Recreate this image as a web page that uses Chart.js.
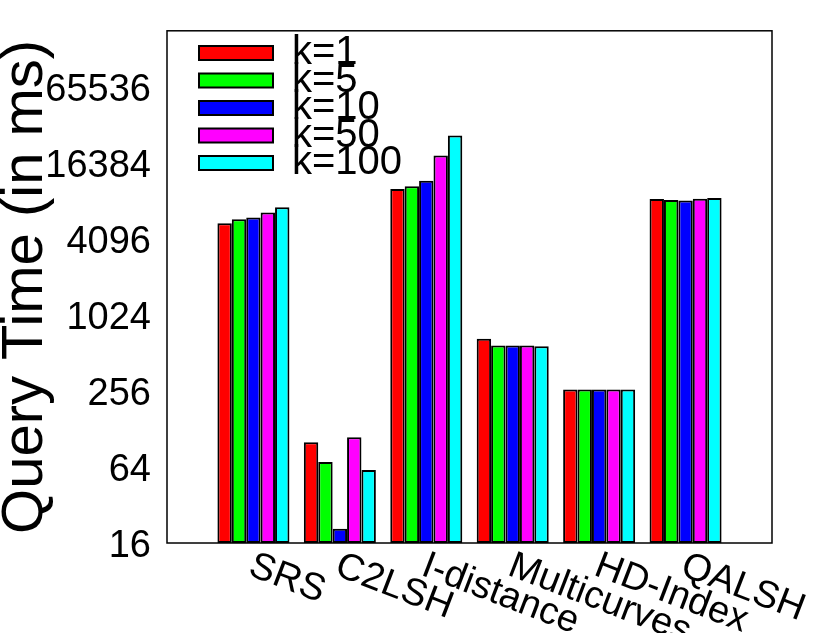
<!DOCTYPE html>
<html>
<head>
<meta charset="utf-8">
<script src="https://cdn.jsdelivr.net/npm/chart.js@4.4.1/dist/chart.umd.min.js"></script>
<style>
  body { margin: 0; background: #fff; }
  #wrap { width: 822px; height: 633px; }
</style>
</head>
<body>
<div id="wrap"><canvas id="chart" width="822" height="633"></canvas></div>
<script>
// data (query time in ms, log2 axis)
const categories = ['SRS', 'C2LSH', 'I-distance', 'Multicurves', 'HD-Index', 'QALSH'];
const seriesNames = ['k=1', 'k=5', 'k=10', 'k=50', 'k=100'];
const seriesColors = ['#ff0000', '#00ff00', '#0000ff', '#ff00ff', '#00ffff'];
const k1 = [5410, 100, 10080, 659, 262, 8400];
const k5 = [5820, 70, 10590, 583, 262, 8245];
const k10 = [6000, 20.7, 11740, 583, 262, 8200];
const k50 = [6580, 110, 18560, 583, 262, 8450];
const k100 = [7250, 60.6, 26770, 576, 262, 8550];
const yTicks = [16, 64, 256, 1024, 4096, 16384, 65536];
const yMin = 16;
const yMax = 180000;

const FONT = "'Liberation Sans', Arial, Helvetica, sans-serif";
const allSeries = [k1, k5, k10, k50, k100];

// one empty slot at each end, like the gnuplot xrange
const labels = ['', ...categories, ''];
const pad = arr => [null, ...arr, null];

// frame, rotated x labels and the legend
const gnuplotLook = {
    id: 'gnuplotLook',
    afterDraw(chart) {
        const ctx = chart.ctx;
        const area = chart.chartArea;
        const xScale = chart.scales.x;

        ctx.save();
        ctx.strokeStyle = '#000';
        ctx.lineWidth = 1.5;
        ctx.strokeRect(area.left, area.top, area.right - area.left, area.bottom - area.top);

        // category labels, rotated down to the right
        ctx.fillStyle = '#000';
        ctx.font = '38px ' + FONT;
        ctx.textAlign = 'left';
        ctx.textBaseline = 'top';
        categories.forEach((name, i) => {
            const x = xScale.getPixelForValue(i + 1);
            ctx.save();
            ctx.translate(x + 4, area.bottom + 4);
            ctx.rotate(21 * Math.PI / 180);
            ctx.fillText(name, 0, 0);
            ctx.restore();
        });

        // legend
        ctx.font = '40px ' + FONT;
        ctx.textBaseline = 'middle';
        chart.data.datasets.forEach((ds, i) => {
            const cy = 53 + i * 27.5;
            ctx.fillStyle = ds.backgroundColor;
            ctx.fillRect(199, cy - 7, 74, 14);
            ctx.strokeStyle = '#000';
            ctx.lineWidth = 2;
            ctx.strokeRect(199, cy - 7, 74, 14);
            ctx.fillStyle = '#000';
            ctx.fillText(ds.label, 292, cy);
        });
        ctx.restore();
    }
};

new Chart(document.getElementById('chart'), {
    type: 'bar',
    data: {
        labels: labels,
        datasets: allSeries.map((vals, i) => ({
            label: seriesNames[i],
            data: pad(vals),
            backgroundColor: seriesColors[i],
            borderColor: '#000',
            borderWidth: 2,
            borderSkipped: false,
            barPercentage: 1,
            categoryPercentage: 5 / 6
        }))
    },
    options: {
        responsive: false,
        animation: false,
        layout: { padding: { top: 27, right: 50, bottom: 0, left: 0 } },
        plugins: {
            legend: { display: false },
            tooltip: { enabled: false }
        },
        scales: {
            x: {
                type: 'category',
                offset: false,
                grid: { display: false },
                border: { display: false },
                ticks: { display: false },
                afterFit(scale) { scale.height = 90; }
            },
            y: {
                type: 'logarithmic',
                min: yMin,
                max: yMax,
                grid: { display: false },
                border: { display: false },
                afterBuildTicks(scale) {
                    scale.ticks = yTicks.map(v => ({ value: v }));
                },
                ticks: {
                    color: '#000',
                    padding: 8,
                    labelOffset: 4,
                    font: { family: FONT, size: 38 },
                    callback: v => String(v)
                },
                title: {
                    display: true,
                    text: 'Query Time (in ms)',
                    color: '#000',
                    font: { family: FONT, size: 58, lineHeight: 0.9 },
                    padding: 0
                },
                afterFit(scale) { scale.width = 167; }
            }
        }
    },
    plugins: [gnuplotLook]
});
</script>
</body>
</html>
